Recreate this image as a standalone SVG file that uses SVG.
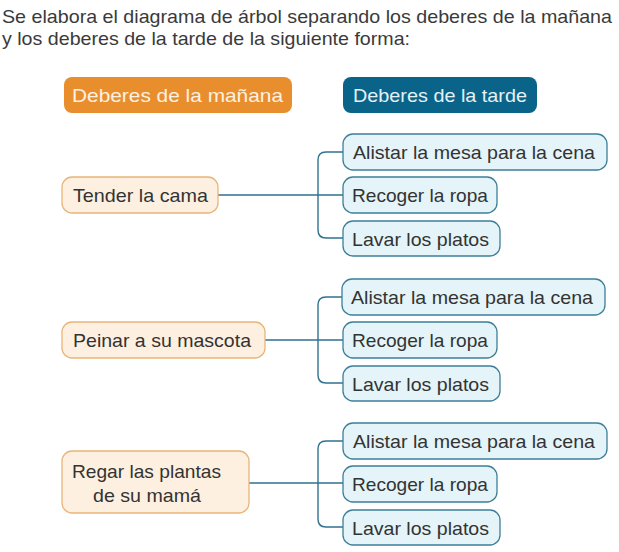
<svg xmlns="http://www.w3.org/2000/svg" width="619" height="552" viewBox="0 0 619 552">
<style>
text{font-family:"Liberation Sans",Arial,sans-serif;font-size:19px;fill:#333}
.title{font-size:19px;fill:#3a3a3a}
.hdr{fill:#fdf1e2}
.m{fill:#fef0e0;stroke:#e8b47a;stroke-width:1.3}
.t{fill:#e4f4f8;stroke:#3d7f99;stroke-width:1.3}
.c{fill:none;stroke:#2f7391;stroke-width:1.4}
</style>
<text class="title" x="2" y="23" textLength="610" lengthAdjust="spacingAndGlyphs">Se elabora el diagrama de árbol separando los deberes de la mañana</text>
<text class="title" x="2" y="45" textLength="408" lengthAdjust="spacingAndGlyphs">y los deberes de la tarde de la siguiente forma:</text>

<g id="hdr-manana">
<rect x="64" y="77" width="228" height="36" rx="8" fill="#e98e2d"/>
<text class="hdr" x="72" y="102" textLength="211" lengthAdjust="spacingAndGlyphs">Deberes de la mañana</text>
</g>
<g id="hdr-tarde">
<rect x="343" y="77" width="194" height="36" rx="8" fill="#0a6489"/>
<text class="hdr" x="353" y="102" textLength="174" lengthAdjust="spacingAndGlyphs" style="fill:#e4f1f5">Deberes de la tarde</text>
</g>

<g id="connectors">
<path class="c" d="M218,195 H343 M343,152 H326 Q318,152 318,160 V230 Q318,238 326,238 H343"/>
<path class="c" d="M265,340 H343 M343,297 H326 Q318,297 318,305 V375 Q318,383 326,383 H343"/>
<path class="c" d="M249,483 H343 M343,441 H326 Q318,441 318,449 V519 Q318,527 326,527 H343"/>
</g>

<g id="m1"><rect class="m" x="62" y="177" width="156" height="36" rx="10"/><text x="73" y="202" textLength="135" lengthAdjust="spacingAndGlyphs">Tender la cama</text></g>
<g id="t1a"><rect class="t" x="343" y="134" width="264" height="36" rx="10"/><text x="353" y="159" textLength="242" lengthAdjust="spacingAndGlyphs">Alistar la mesa para la cena</text></g>
<g id="t1b"><rect class="t" x="343" y="177" width="154" height="36" rx="10"/><text x="352" y="202" textLength="136" lengthAdjust="spacingAndGlyphs">Recoger la ropa</text></g>
<g id="t1c"><rect class="t" x="343" y="221" width="157" height="35" rx="10"/><text x="352" y="246" textLength="137" lengthAdjust="spacingAndGlyphs">Lavar los platos</text></g>

<g id="m2"><rect class="m" x="62" y="322" width="203" height="36" rx="10"/><text x="73" y="347" textLength="178" lengthAdjust="spacingAndGlyphs">Peinar a su mascota</text></g>
<g id="t2a"><rect class="t" x="342" y="279" width="263" height="36" rx="10"/><text x="351" y="304" textLength="242" lengthAdjust="spacingAndGlyphs">Alistar la mesa para la cena</text></g>
<g id="t2b"><rect class="t" x="343" y="322" width="154" height="36" rx="10"/><text x="352" y="347" textLength="136" lengthAdjust="spacingAndGlyphs">Recoger la ropa</text></g>
<g id="t2c"><rect class="t" x="343" y="366" width="157" height="35" rx="10"/><text x="352" y="391" textLength="137" lengthAdjust="spacingAndGlyphs">Lavar los platos</text></g>

<g id="m3"><rect class="m" x="62" y="451" width="187" height="62" rx="10"/><text x="72" y="478" textLength="149" lengthAdjust="spacingAndGlyphs">Regar las plantas</text><text x="93" y="502" textLength="108" lengthAdjust="spacingAndGlyphs">de su mamá</text></g>
<g id="t3a"><rect class="t" x="343" y="423" width="264" height="36" rx="10"/><text x="353" y="448" textLength="242" lengthAdjust="spacingAndGlyphs">Alistar la mesa para la cena</text></g>
<g id="t3b"><rect class="t" x="343" y="466" width="154" height="36" rx="10"/><text x="352" y="491" textLength="136" lengthAdjust="spacingAndGlyphs">Recoger la ropa</text></g>
<g id="t3c"><rect class="t" x="343" y="510" width="157" height="35" rx="10"/><text x="352" y="535" textLength="137" lengthAdjust="spacingAndGlyphs">Lavar los platos</text></g>
</svg>
